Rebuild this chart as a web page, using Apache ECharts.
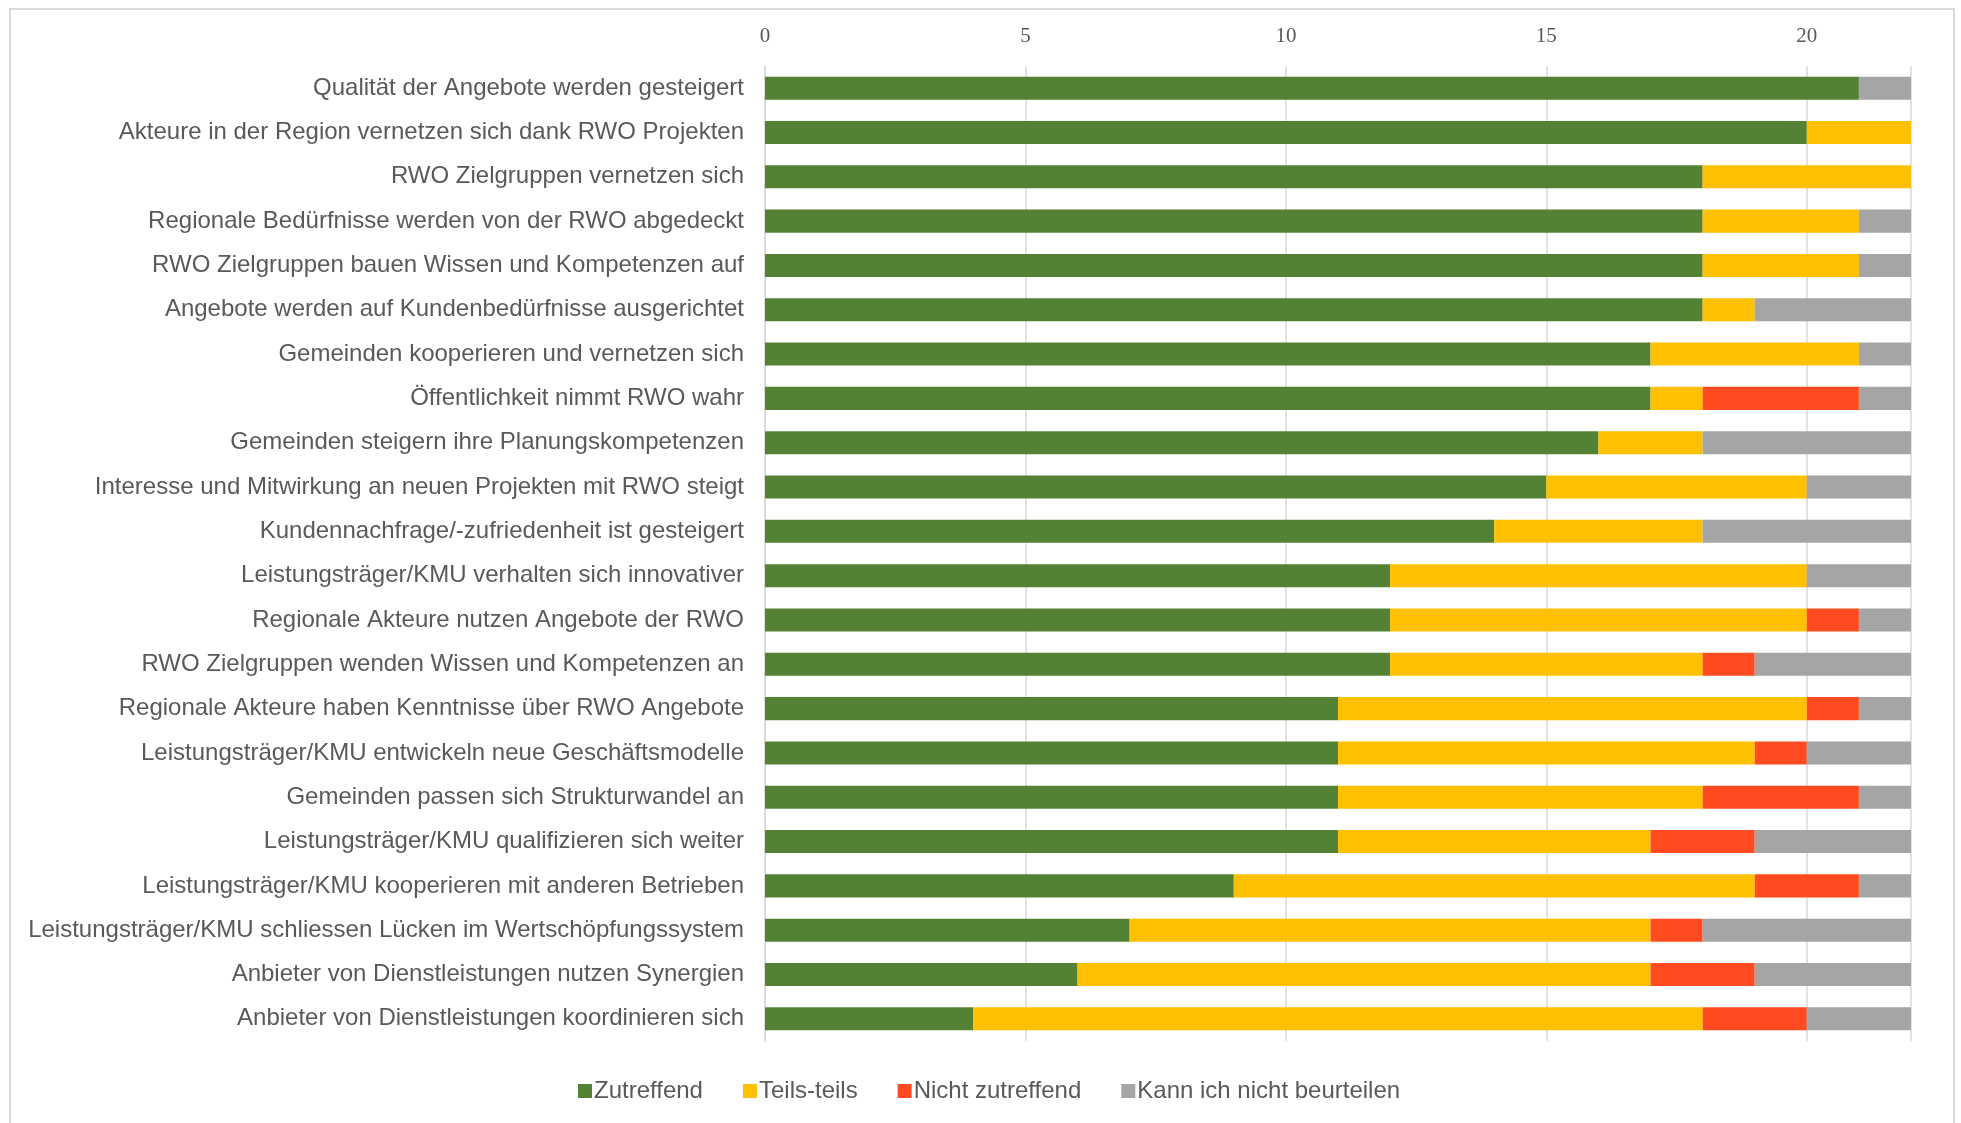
<!DOCTYPE html>
<html><head><meta charset="utf-8">
<script src="https://cdn.jsdelivr.net/npm/echarts@6/dist/echarts.min.js"></script>
<style>html,body{margin:0;padding:0;background:#fff}#c{width:1961px;height:1123px}</style>
</head><body><div id="c"></div>
<script>
const categories = [
"Qualität der Angebote werden gesteigert",
"Akteure in der Region vernetzen sich dank RWO Projekten",
"RWO Zielgruppen vernetzen sich",
"Regionale Bedürfnisse werden von der RWO abgedeckt",
"RWO Zielgruppen bauen Wissen und Kompetenzen auf",
"Angebote werden auf Kundenbedürfnisse ausgerichtet",
"Gemeinden kooperieren und vernetzen sich",
"Öffentlichkeit nimmt RWO wahr",
"Gemeinden steigern ihre Planungskompetenzen",
"Interesse und Mitwirkung an neuen Projekten mit RWO steigt",
"Kundennachfrage/-zufriedenheit ist gesteigert",
"Leistungsträger/KMU verhalten sich innovativer",
"Regionale Akteure nutzen Angebote der RWO",
"RWO Zielgruppen wenden Wissen und Kompetenzen an",
"Regionale Akteure haben Kenntnisse über RWO Angebote",
"Leistungsträger/KMU entwickeln neue Geschäftsmodelle",
"Gemeinden passen sich Strukturwandel an",
"Leistungsträger/KMU qualifizieren sich weiter",
"Leistungsträger/KMU kooperieren mit anderen Betrieben",
"Leistungsträger/KMU schliessen Lücken im Wertschöpfungssystem",
"Anbieter von Dienstleistungen nutzen Synergien",
"Anbieter von Dienstleistungen koordinieren sich"
];
const zutreffend      = [21,20,18,18,18,18,17,17,16,15,14,12,12,12,11,11,11,11,9,7,6,4];
const teilsTeils      = [0,2,4,3,3,1,4,1,2,5,4,8,8,6,9,8,7,6,10,10,11,14];
const nichtZutreffend = [0,0,0,0,0,0,0,3,0,0,0,0,1,1,1,1,3,2,2,1,2,2];
const kannNicht       = [1,0,0,1,1,3,1,1,4,2,4,2,1,3,1,2,1,3,1,4,3,2];
const seriesNames = ["Zutreffend","Teils-teils","Nicht zutreffend","Kann ich nicht beurteilen"];
const colors = ["#548235","#FFC000","#FF4B1F","#A5A5A5"];
const xTicks = {min:0, max:22, interval:5};

const chart = echarts.init(document.getElementById('c'));
const dataSets = [zutreffend, teilsTeils, nichtZutreffend, kannNicht];
chart.setOption({
  animation:false,
  backgroundColor:'#fff',
  graphic:[{type:'rect',shape:{x:10,y:9,width:1944,height:1130},style:{fill:'none',stroke:'#d9d9d9',lineWidth:2},silent:true}],
  grid:{left:765,right:50,top:66,bottom:82,containLabel:false},
  legend:{
    bottom:15,left:573,
    itemWidth:14,itemHeight:14,itemGap:40,icon:'rect',
    textStyle:{fontFamily:'Liberation Sans',fontSize:24,color:'#595959',padding:[0,0,0,-3]},
    data:seriesNames
  },
  xAxis:{type:'value',position:'top',min:xTicks.min,max:xTicks.max,interval:xTicks.interval,
    axisLine:{show:false},axisTick:{show:false},
    splitLine:{lineStyle:{color:'#d9d9d9',width:1.5}},
    axisLabel:{fontFamily:'Liberation Serif',fontSize:21,color:'#595959',margin:19,
      formatter:v=> v>20?'':String(v)}
  },
  yAxis:{type:'category',inverse:true,data:categories,
    axisLine:{show:true,lineStyle:{color:'#d9d9d9',width:1.5}},axisTick:{show:false},
    axisLabel:{fontFamily:'Liberation Sans',fontSize:24,color:'#595959',margin:21}
  },
  series: seriesNames.map((n,i)=>({
    name:n,type:'bar',stack:'t',data:dataSets[i],barWidth:'52%',
    itemStyle:{color:colors[i]}
  }))
});
</script></body></html>
